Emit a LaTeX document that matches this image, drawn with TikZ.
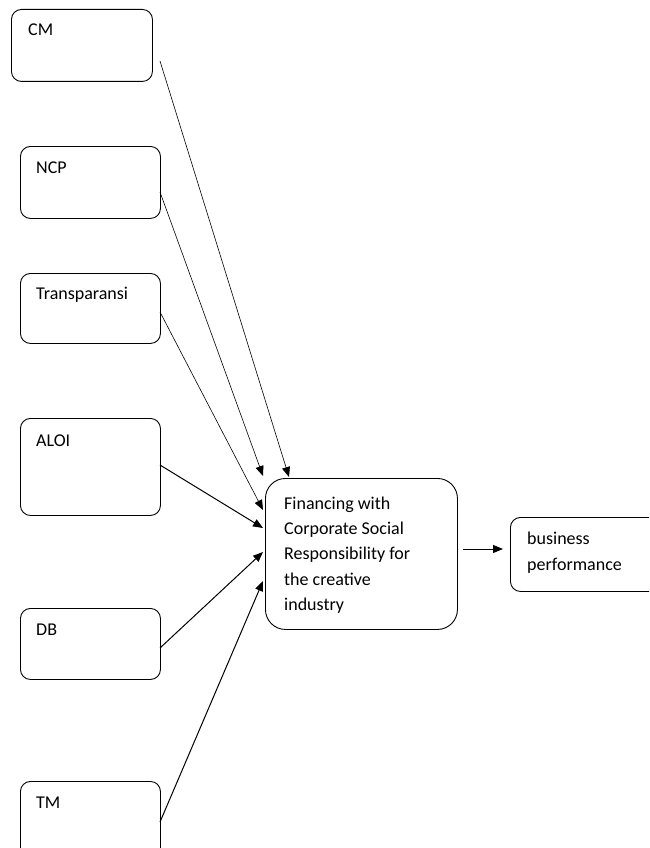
\documentclass[tikz,border=0pt]{standalone}
\usepackage{fontspec}
\setmainfont{Carlito}
\usetikzlibrary{arrows.meta}
\tikzset{
  box/.style={draw=black, line width=0.9pt, rounded corners=10pt, inner sep=0pt, anchor=north west},
  bigbox/.style={draw=black, line width=0.9pt, rounded corners=20pt, inner sep=0pt, anchor=north west},
  lbl/.style={inner sep=0pt, anchor=base west, align=left, font=\fontsize{18}{25.4}\selectfont},
  thinarr/.style={line width=0.6pt, -{Triangle[length=10pt,width=8pt]}},
  thickarr/.style={line width=1pt, -{Triangle[length=10pt,width=8pt]}}
}
\begin{document}
\begin{tikzpicture}[x=1pt,y=-1pt]
\clip (0,0) rectangle (649,848);
\useasboundingbox (0,0) rectangle (649,848);
% boxes
\node[box, minimum width=141pt, minimum height=72pt] (cm) at (11,9) {};
\node[box, minimum width=140pt, minimum height=72pt] (ncp) at (20,146) {};
\node[box, minimum width=140pt, minimum height=70pt] (tr) at (20,273) {};
\node[box, minimum width=140pt, minimum height=97pt] (aloi) at (20,418) {};
\node[box, minimum width=140pt, minimum height=71pt] (db) at (20,608) {};
\node[box, minimum width=140pt, minimum height=90pt] (tm) at (20,781) {};
\node[bigbox, minimum width=192pt, minimum height=151pt] (fin) at (265,478) {};
\node[box, minimum width=160pt, minimum height=74pt] (bp) at (510,517) {};
% labels (base anchor of a multi-line node is at its last line)
\node[lbl] (cmt) at (28,36) {CM};
\node[lbl] (ncpt) at (36,173) {NCP};
\node[lbl] (trt) at (36,299) {Transparansi};
\node[lbl] (aloit) at (36,446) {ALOI};
\node[lbl] (dbt) at (36,635) {DB};
\node[lbl] (tmt) at (36,808) {TM};
\node[lbl] (fint) at (284,610.6) {Financing with\\Corporate Social\\Responsibility for\\the creative\\industry};
\node[lbl, font=\fontsize{18}{26}\selectfont] (bpt) at (527,570) {business\\performance};
% connector end points
\coordinate (cmo) at (160,61);
\coordinate (ncpo) at (160,192);
\coordinate (tro) at (160,312);
\coordinate (aloio) at (160,465);
\coordinate (dbo) at (160,648);
\coordinate (tmo) at (160,822);
\coordinate (fin1) at (289,477);
\coordinate (fin2) at (263,476);
\coordinate (fin3) at (263,510);
\coordinate (fin4) at (263,528);
\coordinate (fin5) at (263,552);
\coordinate (fin6) at (263,581);
\coordinate (fino) at (463,549);
\coordinate (bpi) at (503,549);
% connectors
\draw[thinarr] (cmo) -- (fin1);
\draw[thinarr] (ncpo) -- (fin2);
\draw[thinarr] (tro) -- (fin3);
\draw[thickarr] (aloio) -- (fin4);
\draw[thickarr] (dbo) -- (fin5);
\draw[thickarr] (tmo) -- (fin6);
\draw[thickarr] (fino) -- (bpi);
\end{tikzpicture}
\end{document}
